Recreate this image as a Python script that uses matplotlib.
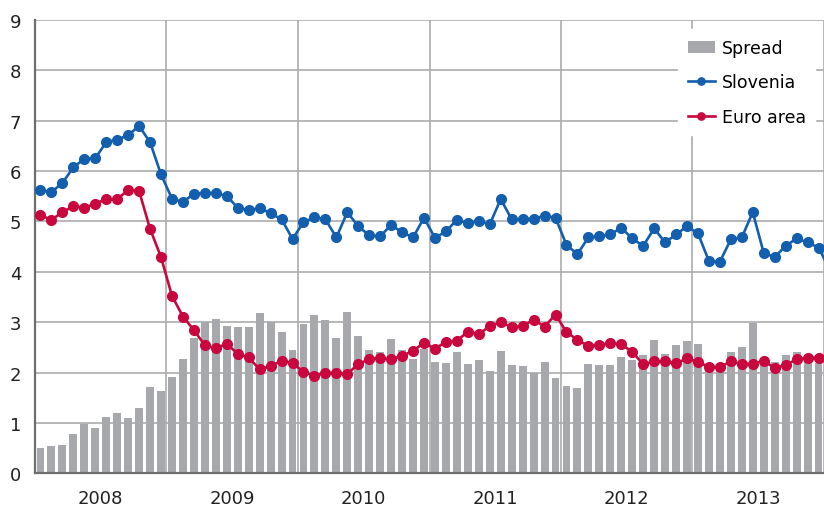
import matplotlib
matplotlib.use("Agg")
import matplotlib.pyplot as plt
import numpy as np

# monthly lending rates, Jan 2008 - Jan 2014 (%)
years = ["2008", "2009", "2010", "2011", "2012", "2013"]

slovenia = [5.62, 5.58, 5.76, 6.07, 6.24, 6.25, 6.57, 6.62, 6.71, 6.89, 6.57, 5.93,
            5.45, 5.38, 5.55, 5.56, 5.56, 5.50, 5.27, 5.22, 5.26, 5.16, 5.04, 4.65,
            4.98, 5.08, 5.04, 4.68, 5.18, 4.90, 4.72, 4.70, 4.93, 4.78, 4.68, 5.07,
            4.67, 4.80, 5.03, 4.96, 5.01, 4.94, 5.44, 5.04, 5.05, 5.05, 5.11, 5.07,
            4.53, 4.35, 4.68, 4.70, 4.74, 4.87, 4.66, 4.51, 4.86, 4.58, 4.74, 4.90,
            4.76, 4.21, 4.20, 4.64, 4.68, 5.18, 4.37, 4.29, 4.51, 4.66, 4.58, 4.48,
            4.05]

euro_area = [5.12, 5.03, 5.18, 5.30, 5.27, 5.35, 5.44, 5.44, 5.62, 5.60, 4.85, 4.29,
             3.52, 3.11, 2.84, 2.54, 2.48, 2.57, 2.37, 2.30, 2.06, 2.13, 2.23, 2.19,
             2.01, 1.94, 1.99, 1.99, 1.97, 2.17, 2.26, 2.29, 2.26, 2.33, 2.43, 2.59,
             2.47, 2.61, 2.63, 2.81, 2.76, 2.92, 3.00, 2.90, 2.92, 3.05, 2.91, 3.15,
             2.80, 2.65, 2.52, 2.55, 2.58, 2.56, 2.41, 2.16, 2.22, 2.22, 2.18, 2.28,
             2.21, 2.11, 2.11, 2.22, 2.17, 2.17, 2.23, 2.09, 2.15, 2.26, 2.29, 2.29,
             2.27]

spread = [0.50, 0.54, 0.57, 0.77, 0.98, 0.89, 1.11, 1.19, 1.09, 1.29, 1.71, 1.63,
          1.92, 2.27, 2.68, 3.00, 3.06, 2.92, 2.90, 2.90, 3.18, 3.00, 2.80, 2.45,
          2.96, 3.14, 3.04, 2.69, 3.20, 2.72, 2.45, 2.41, 2.67, 2.45, 2.27, 2.47,
          2.21, 2.19, 2.41, 2.17, 2.25, 2.03, 2.43, 2.15, 2.13, 1.99, 2.21, 1.89,
          1.73, 1.69, 2.17, 2.15, 2.15, 2.31, 2.25, 2.35, 2.65, 2.37, 2.55, 2.63,
          2.56, 2.10, 2.09, 2.40, 2.50, 2.98, 2.14, 2.20, 2.34, 2.40, 2.32, 2.19,
          1.78]

BLUE = "#135fad"
RED = "#c8073f"
GREY = "#a7a8ac"
GRID = "#ababab"

plt.rcParams["font.family"] = ["DejaVu Sans"]
plt.rcParams["font.size"] = 13

fig = plt.figure(figsize=(8.24, 5.10), dpi=100)
ax = fig.add_axes([35 / 824, 0.070, 1 - 35 / 824, 0.8894])

x = np.arange(len(slovenia))
b = ax.bar(x, spread, width=0.72, color=GREY, label="Spread", zorder=2)
l1, = ax.plot(x, slovenia, color=BLUE, lw=1.9, marker="o", ms=7, label="Slovenia", zorder=4)
l2, = ax.plot(x, euro_area, color=RED, lw=1.9, marker="o", ms=7, label="Euro area", zorder=3)

ax.set_ylim(0, 9)
ax.set_xlim(-0.5, 71.2)
ax.set_yticks(range(10))

# year boundaries carry the grid, labels sit in the middle of each year
ax.set_xticks([12 * i - 0.5 for i in range(7)])
ax.set_xticklabels([])
ax.set_xticks([12 * i + 5.5 for i in range(len(years))], minor=True)
ax.set_xticklabels(years, minor=True)
ax.tick_params(axis="both", which="both", length=0, colors="#222222")
ax.tick_params(axis="x", which="minor", pad=11)
ax.tick_params(axis="y", pad=10)

ax.set_axisbelow(True)
ax.grid(True, which="major", color=GRID, lw=1.2)
for s in ["right", "top"]:
    ax.spines[s].set_visible(False)
for s in ["left", "bottom"]:
    ax.spines[s].set_color("#6e6e6e")
    ax.spines[s].set_linewidth(1.6)

leg = ax.legend([b, l1, l2], ["Spread", "Slovenia", "Euro area"],
                loc="upper right", bbox_to_anchor=(1.0, 0.998), frameon=True,
                fancybox=False, edgecolor="white", facecolor="white", framealpha=1,
                handlelength=1.55, handletextpad=0.4, labelspacing=0.95,
                borderpad=0.55, markerscale=0.75, fontsize=12.5)
leg.set_zorder(5)

fig.savefig("out.png", dpi=100)
